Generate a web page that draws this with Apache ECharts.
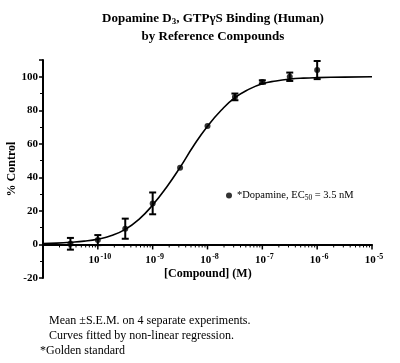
<!DOCTYPE html>
<html>
<head>
<meta charset="utf-8">
<script src="https://cdn.jsdelivr.net/npm/echarts@6/dist/echarts.min.js"></script>
<style>
  html, body { margin: 0; padding: 0; background: #fff; }
  #chart { width: 400px; height: 363px; }
</style>
</head>
<body>
<div id="chart"></div>
<script>
// measured points, log10 of [Compound] (M)
var pointLogConc = [-10.5, -10, -9.5, -9, -8.5, -8, -7.5, -7, -6.5, -6]
var pointMean = [0.4, 2.6, 9.4, 24.5, 45.8, 70.6, 88, 96.9, 100, 104]
var pointSem = [3.5, 3, 6, 6.5, 0, 0, 2, 1, 2.5, 5.4]

// fitted curve
var curveLogConc = [-11, -10.75, -10.5, -10.25, -10, -9.75, -9.5, -9.25, -9, -8.75, -8.5, -8.25, -8,
  -7.75, -7.5, -7.25, -7, -6.75, -6.5, -6.25, -6, -5.5, -5]
var curveValue = [0.5, 0.8, 1.3, 2.0, 3.2, 5.3, 9.0, 15, 23.5, 34, 46, 59, 70.5,
  80, 87.5, 92.5, 95.8, 97.5, 98.6, 99.2, 99.5, 99.8, 100]

// x tick labels (powers of ten) and log minor steps
var decadeLabels = [-10, -9, -8, -7, -6, -5]
var decades = [-11, -10, -9, -8, -7, -6, -5]
var minorSteps = [2, 3, 4, 5, 6, 7, 8, 9]

var serif = 'Liberation Serif'
var black = '#000'

var points = pointLogConc.map(function(l, i) { return [Math.pow(10, l), pointMean[i]] })
var errors = pointLogConc.map(function(l, i) {
  return [Math.pow(10, l), pointMean[i] - pointSem[i], pointMean[i] + pointSem[i]]
}).filter(function(d, i) { return pointSem[i] > 0 })
var curve = curveLogConc.map(function(l, i) { return [Math.pow(10, l), curveValue[i]] })
var xTicks = []
decades.forEach(function(d) {
  xTicks.push([Math.pow(10, d), 5])
  if (d < -5) minorSteps.forEach(function(k) { xTicks.push([k * Math.pow(10, d), 3]) })
})
var xLabels = decadeLabels.map(function(d) { return [Math.pow(10, d), d] })

var chart = echarts.init(document.getElementById('chart'))
chart.setOption({
  animation: false,
  backgroundColor: '#fff',
  title: {
    text: 'Dopamine D{sub|3}, GTPγS Binding (Human)\nby Reference Compounds',
    left: 208,
    top: 5,
    textAlign: 'center',
    textStyle: {
      fontFamily: serif, fontWeight: 'bold', fontSize: 13, lineHeight: 18, color: black,
      rich: {
        sub: { fontFamily: serif, fontWeight: 'bold', fontSize: 9, padding: [6, 0, 0, 0], color: black }
      }
    }
  },
  grid: { left: 43, right: 28, top: 60, bottom: 85, outerBoundsMode: 'none' },
  legend: {
    data: ['dopamine'],
    left: 221,
    top: 185,
    itemWidth: 6,
    itemHeight: 6,
    itemGap: 4,
    icon: 'circle',
    formatter: function() { return '*Dopamine, EC{sub|50} = 3.5 nM' },
    textStyle: {
      fontFamily: serif, fontSize: 10.5, color: black,
      rich: {
        sub: { fontFamily: serif, fontSize: 7.5, padding: [5, 0, 0, 0], color: black }
      }
    }
  },
  xAxis: {
    type: 'log',
    logBase: 10,
    min: 1e-11,
    max: 1e-5,
    axisLine: { onZero: true, lineStyle: { color: black, width: 2 } },
    axisTick: { show: false },
    axisLabel: { show: false },
    splitLine: { show: false }
  },
  yAxis: {
    type: 'value',
    min: -20,
    max: 110,
    interval: 20,
    name: '% Control',
    nameLocation: 'middle',
    nameGap: 25,
    nameMoveOverlap: false,
    nameTextStyle: { fontFamily: serif, fontWeight: 'bold', fontSize: 12, color: black },
    axisLine: { show: true, lineStyle: { color: black, width: 2 } },
    axisTick: { show: true, length: 4, lineStyle: { color: black, width: 1.5 } },
    minorTick: { show: true, splitNumber: 2, length: 3, lineStyle: { color: black, width: 1 } },
    splitLine: { show: false },
    axisLabel: {
      fontFamily: serif, fontWeight: 'bold', fontSize: 11, color: black, margin: 5,
      formatter: function(v) { return v > 100 ? '' : v }
    }
  },
  series: [
    {
      name: 'curve',
      type: 'line',
      data: curve,
      smooth: true,
      showSymbol: false,
      lineStyle: { color: black, width: 1.6 },
      z: 2
    },
    {
      name: 'dopamine',
      type: 'scatter',
      data: points,
      symbol: 'circle',
      symbolSize: 6,
      itemStyle: { color: black },
      z: 4
    },
    {
      name: 'sem',
      type: 'custom',
      data: errors,
      z: 3,
      renderItem: function(params, api) {
        var lo = api.coord([api.value(0), api.value(1)])
        var hi = api.coord([api.value(0), api.value(2)])
        var w = 3.5
        var st = { stroke: black, lineWidth: 2 }
        return {
          type: 'group',
          children: [
            { type: 'line', shape: { x1: lo[0], y1: lo[1], x2: hi[0], y2: hi[1] }, style: st },
            { type: 'line', shape: { x1: lo[0] - w, y1: lo[1], x2: lo[0] + w, y2: lo[1] }, style: st },
            { type: 'line', shape: { x1: hi[0] - w, y1: hi[1], x2: hi[0] + w, y2: hi[1] }, style: st }
          ]
        }
      }
    },
    {
      // x ticks on the zero line (log minor ticks included)
      name: 'xticks',
      type: 'custom',
      data: xTicks,
      z: 1,
      silent: true,
      renderItem: function(params, api) {
        var p = api.coord([api.value(0), 0])
        return {
          type: 'line',
          shape: { x1: p[0], y1: p[1], x2: p[0], y2: p[1] + api.value(1) },
          style: { stroke: black, lineWidth: api.value(1) > 4 ? 1.5 : 1 }
        }
      }
    },
    {
      // x tick labels under the zero line
      name: 'xlabels',
      type: 'custom',
      data: xLabels,
      z: 1,
      silent: true,
      renderItem: function(params, api) {
        var p = api.coord([api.value(0), 0])
        return {
          type: 'text',
          x: p[0] + 2,
          y: p[1] + 8,
          style: {
            text: '{b|10}{s|' + api.value(1) + '}',
            align: 'center',
            verticalAlign: 'top',
            rich: {
              b: { fontFamily: serif, fontWeight: 'bold', fontSize: 11, fill: black },
              s: { fontFamily: serif, fontWeight: 'bold', fontSize: 8, padding: [0, 0, 7, 1], fill: black }
            }
          }
        }
      }
    }
  ],
  graphic: [
    { type: 'text', left: 164, top: 268, style: { text: '[Compound] (M)', font: 'bold 12px "Liberation Serif"', fill: black } },
    { type: 'text', left: 49, top: 315, style: { text: 'Mean ±S.E.M. on 4 separate experiments.', font: '12px "Liberation Serif"', fill: black } },
    { type: 'text', left: 49, top: 330, style: { text: 'Curves fitted by non-linear regression.', font: '12px "Liberation Serif"', fill: black } },
    { type: 'text', left: 40, top: 345, style: { text: '*Golden standard', font: '12px "Liberation Serif"', fill: black } }
  ]
})
</script>
</body>
</html>
